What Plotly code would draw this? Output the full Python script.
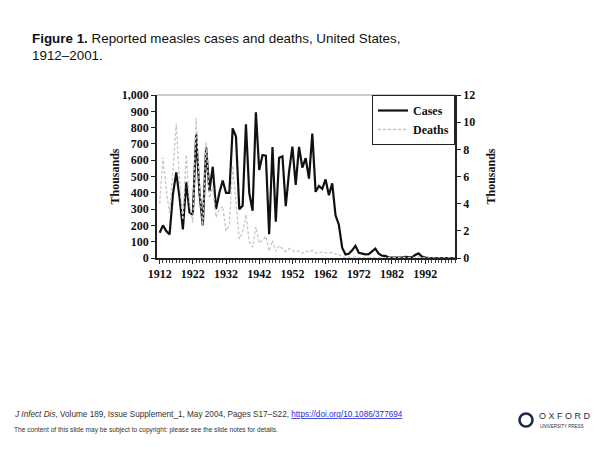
import plotly.graph_objects as go

years = list(range(1912, 2002))

cases_thousands = [
    155, 200, 165, 145, 390, 525, 370, 175, 465, 280,   # 1912-1921
    265, 760, 400, 200, 680, 410, 560, 300, 400, 475,   # 1922-1931
    400, 400, 795, 745, 300, 320, 820, 400, 290, 894,   # 1932-1941
    540, 632, 628, 146, 680, 222, 615, 624, 318, 530,   # 1942-1951
    683, 449, 682, 555, 612, 487, 763, 406, 442, 424,   # 1952-1961
    482, 385, 458, 262, 204, 63, 22, 26, 47, 75,        # 1962-1971
    32, 27, 22, 24, 41, 57, 27, 14, 13.5, 3,            # 1972-1981
    1.7, 1.5, 2.6, 2.8, 6.3, 3.7, 3.4, 18, 28, 9.6,     # 1982-1991
    2.2, 0.3, 1.0, 0.3, 0.5, 0.14, 0.1, 0.1, 0.09, 0.12 # 1992-2001
]

deaths_thousands = [
    4.0, 7.4, 5.0, 3.3, 6.5, 9.9, 5.5, 2.8, 7.6, 4.0,   # 1912-1921
    2.6, 10.3, 5.0, 2.4, 8.5, 4.4, 5.2, 3.0, 3.6, 3.8,  # 1922-1931
    2.0, 2.4, 6.8, 4.0, 1.4, 1.9, 3.2, 1.2, 0.8, 2.3,   # 1932-1941
    1.1, 1.3, 1.6, 0.5, 1.3, 0.5, 0.9, 0.7, 0.47, 0.7,  # 1942-1951
    0.6, 0.45, 0.5, 0.35, 0.5, 0.45, 0.55, 0.38, 0.38, 0.43,  # 1952-1961
    0.4, 0.36, 0.42, 0.28, 0.26, 0.08, 0.02, 0.04, 0.09, 0.09,  # 1962-1971
    0.02, 0.02, 0.02, 0.02, 0.01, 0.02, 0.01, 0.006, 0.01, 0.002,  # 1972-1981
    0.002, 0.004, 0.001, 0.004, 0.002, 0.002, 0.003, 0.04, 0.09, 0.03,  # 1982-1991
    0.003, 0.0, 0.0, 0.002, 0.001, 0.0, 0.0, 0.0, 0.001, 0.001  # 1992-2001
]

left_ticks = list(range(0, 1001, 100))
left_tick_labels = ["0", "100", "200", "300", "400", "500", "600", "700", "800", "900", "1,000"]
right_ticks = [0, 2, 4, 6, 8, 10, 12]
x_ticks = [1912, 1922, 1932, 1942, 1952, 1962, 1972, 1982, 1992]

# page offset (browser body margin) and plot area in page pixels
OFF = 8
L, R, T, B = 157, 455, 95, 258
W, H = 600 - OFF, 450 - OFF


def px_x(px):
    return (px - L) / (R - L)


def px_y(py):
    return (B - py) / (B - T)


serif = "Liberation Serif, Times New Roman, serif"
sans = "Liberation Sans, Arial, sans-serif"

fig = go.Figure()
fig.add_trace(go.Scatter(
    x=years, y=deaths_thousands, name="Deaths", yaxis="y2",
    mode="lines", line=dict(color="#c6c6c6", width=1.3, dash="3px,2px"),
))
fig.add_trace(go.Scatter(
    x=years, y=cases_thousands, name="Cases", yaxis="y",
    mode="lines", line=dict(color="#111111", width=2.2),
))

fig.update_layout(
    width=W, height=H,
    margin=dict(l=L - OFF, r=600 - R, t=T - OFF, b=450 - B, pad=0),
    paper_bgcolor="white", plot_bgcolor="white",
    showlegend=True,
    legend=dict(
        x=1.0, y=1.0, xanchor="right", yanchor="top",
        bgcolor="white", bordercolor="#222", borderwidth=1,
        font=dict(family=serif, size=12, color="#111", weight="bold"),
        traceorder="reversed", itemwidth=30,
        tracegroupgap=0,
    ),
    xaxis=dict(
        range=[1911.2, 2001], tickvals=x_ticks,
        ticktext=[str(v) for v in x_ticks],
        ticks="outside", ticklen=4, tickcolor="#222", tickwidth=1,
        minor=dict(dtick=1, tick0=1912, ticks="outside", ticklen=3, tickcolor="#444"),
        showline=True, linecolor="#222", linewidth=1.5,
        showgrid=False, zeroline=False,
        tickfont=dict(family=serif, size=12, color="#111", weight="bold"),
    ),
    yaxis=dict(
        range=[0, 1000], tickvals=left_ticks, ticktext=left_tick_labels,
        ticks="outside", ticklen=4, tickcolor="#222",
        showline=True, linecolor="#222", linewidth=1.5,
        showgrid=False, zeroline=False,
        tickfont=dict(family=serif, size=12, color="#111", weight="bold"),
        title=dict(text="Thousands", standoff=0,
                   font=dict(family=serif, size=12, color="#111", weight="bold")),
    ),
    yaxis2=dict(
        range=[0, 12], tickvals=right_ticks,
        ticktext=[str(v) for v in right_ticks],
        overlaying="y", side="right",
        ticks="outside", ticklen=4, tickcolor="#222",
        showline=True, linecolor="#222", linewidth=1.5,
        showgrid=False, zeroline=False,
        tickfont=dict(family=serif, size=12, color="#111", weight="bold"),
        title=dict(text="Thousands", standoff=12,
                   font=dict(family=serif, size=12, color="#111", weight="bold")),
    ),
    shapes=[
        dict(type="line", xref="paper", yref="paper", x0=0, x1=1, y0=1, y1=1,
             line=dict(color="#9a9a9a", width=1.2)),
        dict(type="circle", xref="paper", yref="paper",
             x0=px_x(519.5), x1=px_x(532.5), y0=px_y(426.5), y1=px_y(413.5),
             line=dict(color="#1f2a44", width=2.6)),
    ],
    annotations=[
        dict(xref="paper", yref="paper", x=px_x(30), y=px_y(29),
             xanchor="left", yanchor="top", align="left", showarrow=False,
             text="<b>Figure 1.</b> Reported measles cases and deaths, United States,<br>1912–2001.",
             font=dict(family=sans, size=13.4, color="#111")),
        dict(xref="paper", yref="paper", x=px_x(12), y=px_y(414),
             xanchor="left", yanchor="middle", showarrow=False,
             text="<i>J Infect Dis</i>, Volume 189, Issue Supplement_1, May 2004, Pages S17–S22, "
                  "<span style='color:#2a2ad8'><u>https://doi.org/10.1086/377694</u></span>",
             font=dict(family=sans, size=8.2, color="#333")),
        dict(xref="paper", yref="paper", x=px_x(12), y=px_y(430),
             xanchor="left", yanchor="middle", showarrow=False,
             text="The content of this slide may be subject to copyright: please see the slide notes for details.",
             font=dict(family=sans, size=6.6, color="#333")),
        dict(xref="paper", yref="paper", x=px_x(537), y=px_y(416),
             xanchor="left", yanchor="middle", showarrow=False,
             text="O X F O R D",
             font=dict(family=sans, size=9, color="#1f2a44")),
        dict(xref="paper", yref="paper", x=px_x(538), y=px_y(426),
             xanchor="left", yanchor="middle", showarrow=False,
             text="UNIVERSITY PRESS",
             font=dict(family=sans, size=4.5, color="#1f2a44")),
    ],
)

fig.write_html("out.html")
